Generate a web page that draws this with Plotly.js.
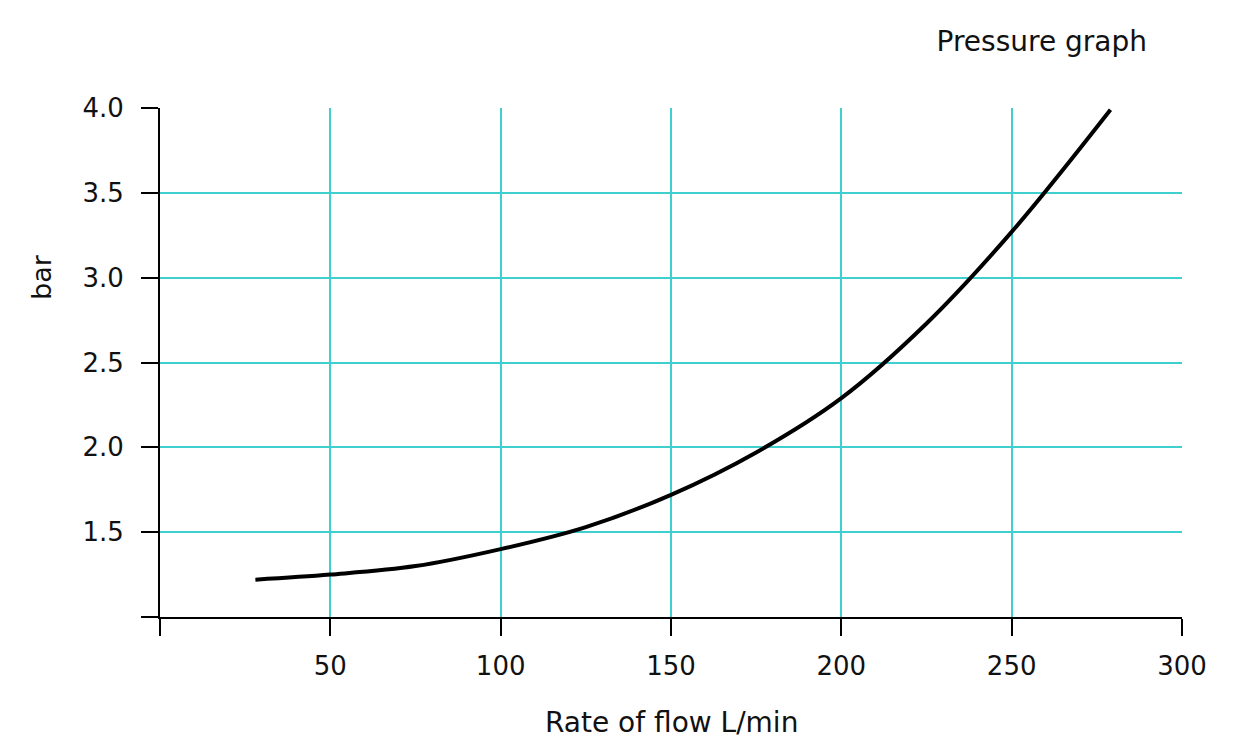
<!DOCTYPE html>
<html>
<head>
<meta charset="utf-8">
<script src="https://cdn.plot.ly/plotly-3.0.1.min.js"></script>
<style>
html,body{margin:0;padding:0;background:#fff;}
#chart{width:1240px;height:745px;}
</style>
</head>
<body>
<div id="chart"></div>
<script>
var flowRate = [28, 50, 75, 100, 125, 150, 175, 200, 225, 250, 279];
var pressure = [1.22, 1.25, 1.30, 1.40, 1.53, 1.72, 1.97, 2.29, 2.73, 3.27, 3.99];
var xTickVals = [0, 50, 100, 150, 200, 250, 300];
var xTickText = ['', '50', '100', '150', '200', '250', '300'];
var yTickVals = [1.0, 1.5, 2.0, 2.5, 3.0, 3.5, 4.0];
var yTickText = ['', '1.5', '2.0', '2.5', '3.0', '3.5', '4.0'];

var font = 'DejaVu Sans, Liberation Sans, sans-serif';
var grid = '#3fcfcf';
var txt = '#111';

var trace = {
  x: flowRate, y: pressure, type: 'scatter', mode: 'lines',
  line: {color: '#000', width: 4, shape: 'spline', smoothing: 1},
  hoverinfo: 'skip'
};

var layout = {
  width: 1240, height: 745,
  margin: {l: 160, r: 58, t: 108, b: 128},
  paper_bgcolor: '#fff', plot_bgcolor: '#fff',
  showlegend: false,
  font: {family: font, size: 26, color: txt},
  title: {text: 'Pressure graph', font: {family: font, size: 28, color: txt},
          xref: 'container', yref: 'container', x: 1147/1240, xanchor: 'right',
          y: 1 - 41/745, yanchor: 'middle'},
  xaxis: {
    range: [0, 300], tickmode: 'array', tickvals: xTickVals, ticktext: xTickText,
    showline: true, linecolor: '#000', linewidth: 2,
    ticks: 'outside', ticklen: 17, tickwidth: 2, tickcolor: '#000',
    showgrid: true, gridcolor: grid, gridwidth: 2, zeroline: false,
    ticklabelstandoff: 8,
    tickfont: {family: font, size: 26, color: txt}
  },
  yaxis: {
    range: [1, 4], tickmode: 'array', tickvals: yTickVals, ticktext: yTickText,
    showline: true, linecolor: '#000', linewidth: 2,
    ticks: 'outside', ticklen: 17, tickwidth: 2, tickcolor: '#000',
    showgrid: true, gridcolor: grid, gridwidth: 2, zeroline: false,
    ticklabelstandoff: 12,
    tickfont: {family: font, size: 26, color: txt}
  },
  annotations: [{
    text: 'bar', xref: 'paper', yref: 'paper', x: (41-160)/1022, y: (617-277)/509,
    xanchor: 'center', yanchor: 'middle', textangle: -90, showarrow: false,
    font: {family: font, size: 27, color: txt}
  }, {
    text: 'Rate of flow L/min', xref: 'paper', yref: 'paper', x: (671-160)/1022, y: (617-722)/509,
    xanchor: 'center', yanchor: 'middle', showarrow: false,
    font: {family: font, size: 28, color: txt}
  }]
};

Plotly.newPlot('chart', [trace], layout, {displayModeBar: false, staticPlot: true});
</script>
</body>
</html>
